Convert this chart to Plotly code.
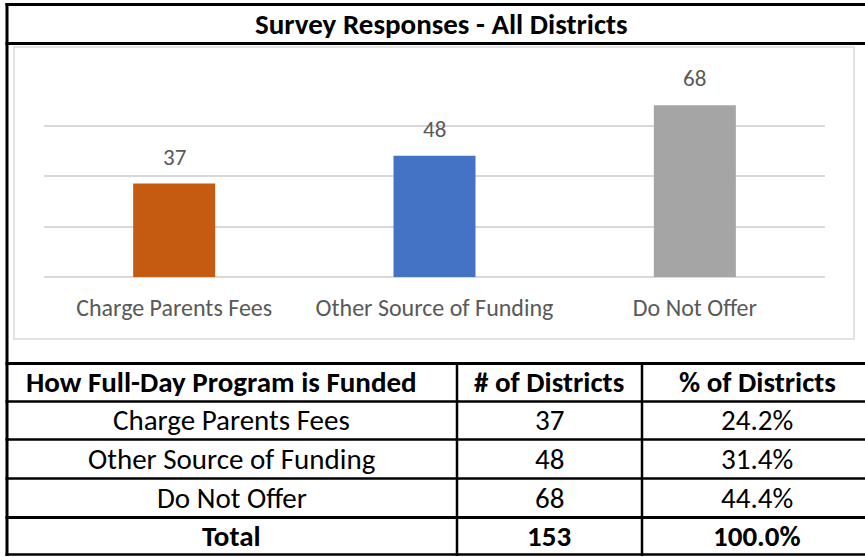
import plotly.graph_objects as go

# ---- data ----
categories = ["Charge Parents Fees", "Other Source of Funding", "Do Not Offer"]
districts = [37, 48, 68]
percents = ["24.2%", "31.4%", "44.4%"]
total_label = "Total"
total_count = "153"
total_pct = "100.0%"
table_headers = ["How Full-Day Program is Funded", "# of Districts", "% of Districts"]
title_text = "Survey Responses - All Districts"
bar_colors = ["#C55A11", "#4472C4", "#A5A5A5"]
y_ticks = [0, 20, 40, 60, 80]

W, H = 865, 557
FONT = "Carlito, Calibri, Lato, sans-serif"


def px(x):
    return x / W


def py(y):
    return 1 - y / H


fig = go.Figure()
fig.add_trace(go.Bar(
    x=categories, y=districts, width=0.315,
    marker=dict(color=bar_colors, line=dict(width=0)),
    hoverinfo="x+y",
))

shapes = []
# inner chart box
shapes.append(dict(type="rect", xref="paper", yref="paper",
                   x0=px(14), x1=px(854), y0=py(339), y1=py(47),
                   line=dict(color="#D9D9D9", width=1.5), layer="below"))


def hline(y, x0, x1, w):
    shapes.append(dict(type="line", xref="paper", yref="paper",
                       x0=px(x0), x1=px(x1), y0=py(y), y1=py(y),
                       line=dict(color="black", width=w)))


def vline(x, y0, y1, w):
    shapes.append(dict(type="line", xref="paper", yref="paper",
                       x0=px(x), x1=px(x), y0=py(y0), y1=py(y1),
                       line=dict(color="black", width=w)))


# outer frame
hline(4.5, 5.5, 870, 3)
hline(43.5, 5.5, 870, 3)
vline(7, 3, 556, 3)

# table lines
row_lines = [363.5, 401.5, 439.5, 478.5, 517.5, 554.5]
for i, yl in enumerate(row_lines):
    hline(yl, 5.5, 870, 3 if i in (0, 4) else 2.5)
col_lines = [457, 642]
for xl in col_lines:
    vline(xl, 362, 556, 2.5)

annotations = []
# data labels above bars
for cat, val in zip(categories, districts):
    annotations.append(dict(text=str(val), x=cat, y=val, xref="x", yref="y",
                            showarrow=False, yanchor="bottom", xanchor="center",
                            yshift=11,
                            font=dict(family=FONT, size=23, color="#595959")))

annotations.append(dict(text="<b>%s</b>" % title_text, xref="paper", yref="paper",
                        x=px(442), y=py(24), showarrow=False,
                        font=dict(family=FONT, size=29, color="black"),
                        xanchor="center", yanchor="middle"))

col_centers = [232, 549, 757]
row_centers = [382, 420, 458.5, 497.5, 535.5]
rows = [table_headers] + [[c, str(v), p] for c, v, p in zip(categories, districts, percents)] + \
       [[total_label, total_count, total_pct]]
for r, row in enumerate(rows):
    bold = r == 0 or r == len(rows) - 1
    for c, txt in enumerate(row):
        xc = col_centers[c]
        if r == 0 and c == 0:
            xc = 222
        annotations.append(dict(text=("<b>%s</b>" % txt) if bold else txt,
                                xref="paper", yref="paper",
                                x=px(xc), y=py(row_centers[r]), showarrow=False,
                                font=dict(family=FONT, size=29, color="black"),
                                xanchor="center", yanchor="middle"))

fig.update_layout(
    width=W, height=H, margin=dict(l=0, r=0, t=0, b=0),
    paper_bgcolor="white", plot_bgcolor="white",
    showlegend=False, bargap=0.685,
    xaxis=dict(domain=[px(44), px(825)], showline=False, ticks="",
               tickfont=dict(family=FONT, size=24, color="#595959"),
               ticklabelstandoff=14, fixedrange=True),
    yaxis=dict(domain=[py(277), py(75)], range=[0, 80], tickvals=y_ticks,
               showticklabels=False, showgrid=True, gridcolor="#D9D9D9",
               gridwidth=1.5, zeroline=True, zerolinecolor="#D9D9D9",
               zerolinewidth=1.5, showline=False, fixedrange=True),
    shapes=shapes, annotations=annotations,
)

fig.write_html("out.html", config={"displayModeBar": False},
               post_script="document.body.style.margin='0';document.body.style.overflow='hidden';")
